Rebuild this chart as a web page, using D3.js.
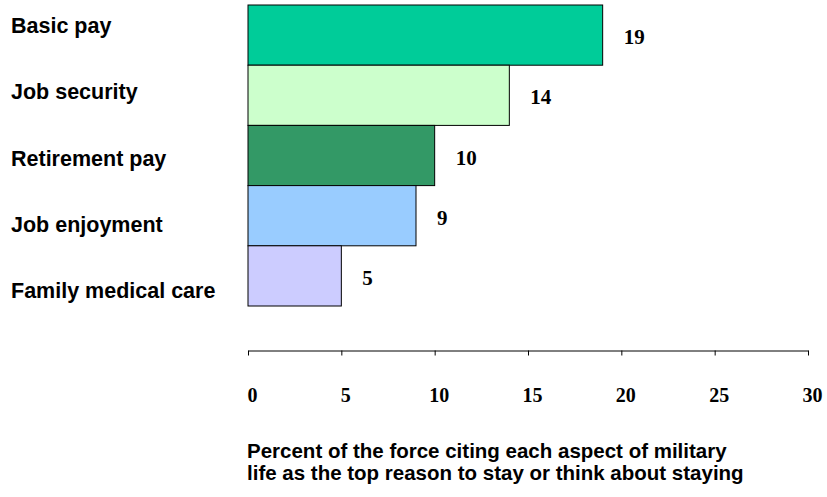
<!DOCTYPE html>
<html>
<head>
<meta charset="utf-8">
<script src="https://cdn.jsdelivr.net/npm/d3@7"></script>
<style>
  html, body { margin: 0; padding: 0; background: #ffffff; }
  svg { display: block; }
</style>
</head>
<body>
<div id="chart"></div>
<script>
const categories = ["Basic pay", "Job security", "Retirement pay", "Job enjoyment", "Family medical care"];
const values = [19, 14, 10, 9, 5];
const colors = ["#00CC99", "#CCFFCC", "#339966", "#99CCFF", "#CCCCFF"];
const tickValues = [0, 5, 10, 15, 20, 25, 30];
const titleLines = ["Percent of the force citing each aspect of military",
                    "life as the top reason to stay or think about staying"];

const W = 827, H = 497;
const svg = d3.select("#chart").append("svg")
  .attr("width", W).attr("height", H);
svg.append("rect").attr("width", W).attr("height", H).attr("fill", "#fff");

const x = d3.scaleLinear().domain([0, 30]).range([248, 808]);
const y = d3.scaleBand().domain(categories).range([5, 306]).padding(0);
const yLab = d3.scaleBand().domain(categories).range([0, 331]).padding(0);

// bars
svg.selectAll("rect.bar").data(categories).join("rect")
  .attr("class", "bar")
  .attr("x", x(0))
  .attr("y", d => y(d))
  .attr("width", (d, i) => x(values[i]) - x(0))
  .attr("height", y.bandwidth())
  .attr("fill", (d, i) => colors[i])
  .attr("stroke", "#000")
  .attr("stroke-width", 1);

// value labels
svg.selectAll("text.val").data(categories).join("text")
  .attr("class", "val")
  .attr("x", (d, i) => x(values[i]) + 21)
  .attr("y", d => y(d) + y.bandwidth() / 2 + 9)
  .attr("font-family", "'Liberation Serif', 'Times New Roman', serif")
  .attr("font-weight", "bold")
  .attr("font-size", "21px")
  .attr("fill", "#000")
  .text((d, i) => values[i]);

// category labels
svg.selectAll("text.cat").data(categories).join("text")
  .attr("class", "cat")
  .attr("x", 11)
  .attr("y", d => yLab(d) + yLab.bandwidth() / 2)
  .attr("font-family", "'Liberation Sans', Arial, sans-serif")
  .attr("font-weight", "bold")
  .attr("font-size", "21.5px")
  .attr("fill", "#000")
  .text(d => d);

// x axis
const axis = d3.axisBottom(x).tickValues(tickValues).tickSize(5).tickSizeOuter(0).tickPadding(32);
const gx = svg.append("g").attr("transform", "translate(0,350.5)").call(axis);
gx.select(".domain").attr("stroke", "#000");
gx.selectAll(".tick line").attr("stroke", "#000");
gx.selectAll(".tick text")
  .attr("dx", 4)
  .attr("font-family", "'Liberation Serif', 'Times New Roman', serif")
  .attr("font-weight", "bold")
  .attr("font-size", "20px")
  .attr("fill", "#000");

// axis title
svg.append("g").selectAll("text").data(titleLines).join("text")
  .attr("x", 247)
  .attr("y", (d, i) => 458 + i * 22)
  .attr("font-family", "'Liberation Sans', Arial, sans-serif")
  .attr("font-weight", "bold")
  .attr("font-size", "20.5px")
  .attr("fill", "#000")
  .text(d => d);
</script>
</body>
</html>
